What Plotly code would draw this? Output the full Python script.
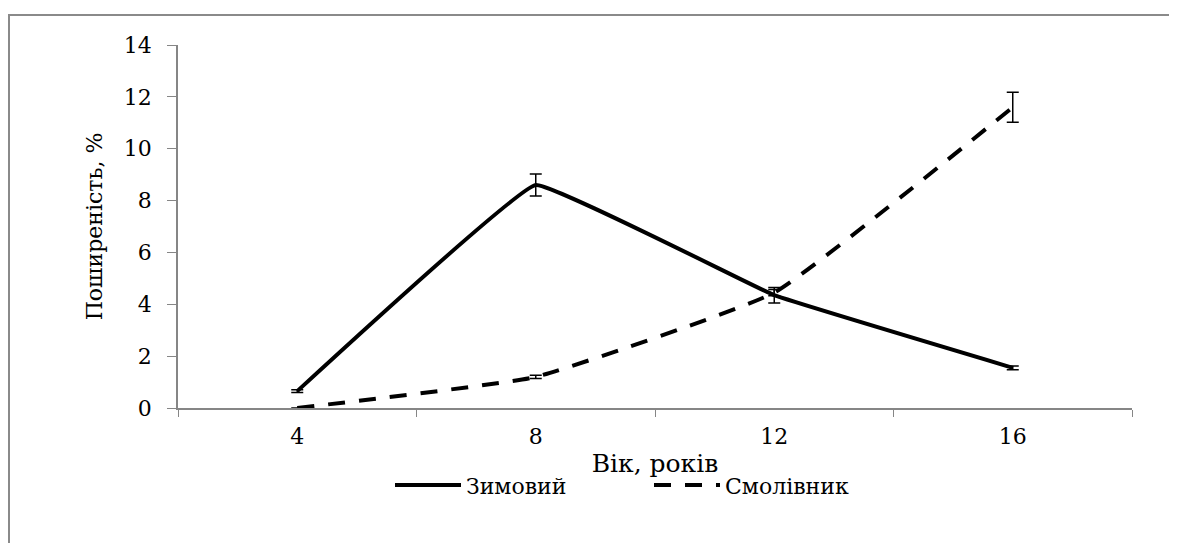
import plotly.graph_objects as go

ages = ["4", "8", "12", "16"]
zymovyi = [0.65, 8.6, 4.35, 1.55]
zymovyi_err = [0.05, 0.42, 0.3, 0.07]
smolivnyk = [0.0, 1.2, 4.45, 11.6]
smolivnyk_err = [0.0, 0.06, 0.12, 0.58]
y_ticks = [0, 2, 4, 6, 8, 10, 12, 14]

FONT = "DejaVu Serif, Noto Serif, Tinos, Times New Roman, Liberation Serif, serif"
FS = 22
AX = "#868686"

fig = go.Figure()
fig.add_trace(go.Scatter(
    x=ages, y=zymovyi, name="Зимовий", mode="lines",
    line=dict(color="black", width=4, shape="spline", smoothing=0.2),
    error_y=dict(type="data", array=zymovyi_err, visible=True,
                 color="black", thickness=1.5, width=6),
))
fig.add_trace(go.Scatter(
    x=ages, y=smolivnyk, name="Смолівник", mode="lines",
    line=dict(color="black", width=4, dash="17px,14px", shape="spline", smoothing=0.35),
    error_y=dict(type="data", array=smolivnyk_err, visible=True,
                 color="black", thickness=1.5, width=6),
))

# page body has an 8px margin, so the figure is drawn 8px right/down
fig.update_layout(
    width=1177, height=543,
    margin=dict(l=170, r=53, t=37, b=143),
    paper_bgcolor="white", plot_bgcolor="white",
    font=dict(family=FONT, color="black", size=FS),
    showlegend=True,
    legend=dict(orientation="h", x=(390 - 178) / 954, xanchor="left", y=-0.155, yanchor="top",
                font=dict(family=FONT, size=FS), itemwidth=66,
                entrywidth=178, entrywidthmode="pixels",
                bgcolor="rgba(0,0,0,0)"),
    shapes=[dict(type="rect", xref="paper", yref="paper",
                 x0=(1 - 170) / 954, x1=(1190 - 170) / 954,
                 y0=(400 - 560) / 363, y1=(400 - 7) / 363,
                 line=dict(color="#8a8a8a", width=2), layer="below")],
)
fig.update_xaxes(
    type="category", range=[-0.5, 3.5], tickson="boundaries", ticks="outside", ticklen=7,
    tickcolor=AX, showline=True, linecolor=AX, linewidth=1.5,
    showgrid=False, zeroline=False, ticklabelstandoff=8,
    tickfont=dict(family=FONT, size=FS),
    title=dict(text="Вік, років", font=dict(family=FONT, size=25), standoff=6),
)
fig.update_yaxes(
    range=[0, 14], tickvals=y_ticks, ticks="outside", ticklen=9,
    tickcolor=AX, showline=True, linecolor=AX, linewidth=1.5,
    showgrid=False, zeroline=False, ticklabelstandoff=11,
    tickfont=dict(family=FONT, size=FS),
    title=dict(text="Поширеність, %", font=dict(family=FONT, size=FS), standoff=15),
)

fig.write_html("out.html")
